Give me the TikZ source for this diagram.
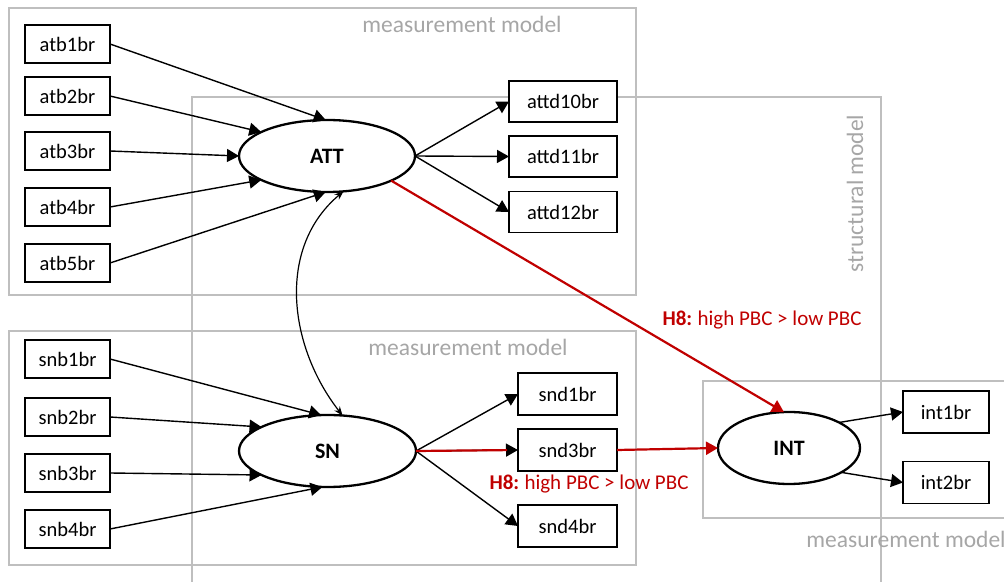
\documentclass[tikz,border=0pt]{standalone}
\usepackage{fontspec}
\setmainfont{Carlito}
\usetikzlibrary{arrows.meta,shapes.geometric}
\definecolor{framegray}{HTML}{BFBFBF}
\definecolor{labelgray}{HTML}{A6A6A6}
\definecolor{hypred}{HTML}{C00000}

\begin{document}
\begin{tikzpicture}[x=1pt,y=1pt,
  ind/.style={draw=black, line width=1.8pt, fill=white, inner sep=0pt, outer sep=0pt,
    font=\fontsize{20.5}{24}\selectfont},
  bbox/.style={ind, minimum width=85pt, minimum height=38pt},
  dbox/.style={ind, minimum width=108pt, minimum height=41pt},
  sbox/.style={ind, minimum width=99pt, minimum height=42pt},
  ibox/.style={ind, minimum width=86pt, minimum height=42pt},
  latent/.style={ellipse, draw=black, line width=2.3pt, fill=white, inner sep=0pt, outer sep=0pt,
    minimum width=176pt, minimum height=72pt, font=\fontsize{22}{26}\selectfont\bfseries},
  load/.style={-{Triangle[length=12pt,width=13pt]}, line width=1.4pt},
  corr/.style={{Stealth[length=9pt,width=7pt]}-{Stealth[length=9pt,width=7pt]}, line width=1.2pt},
  hypo/.style={-{Triangle[length=12pt,width=13pt]}, line width=2.2pt, draw=hypred},
  frm/.style={draw=framegray, line width=1.6pt},
  frmlabel/.style={text=labelgray, font=\fontsize{23.5}{27}\selectfont, inner sep=0pt},
  hyplabel/.style={text=hypred, font=\fontsize{21}{25}\selectfont, inner sep=0pt},
]
\useasboundingbox (0,0) rectangle (1004,581);

% frames
\draw[frm] (9,573) rectangle (636,286);
\draw[frm] (192,-5) -- (192,484) -- (881,484) -- (881,-5);
\draw[frm] (9,250) rectangle (636,16);
\draw[frm] (1010,200) -- (703,200) -- (703,63) -- (1010,63);

\node[frmlabel] (lblA) at (462,557) {measurement model};
\node[frmlabel] (lblS) at (468,234) {measurement model};
\node[frmlabel] (lblI) at (906,42) {measurement model};
\node[frmlabel, rotate=90] (lblStruct) at (855,387.5) {structural model};

% attitude block
\node[bbox] (atb1) at (67.5,537) {atb1br};
\node[bbox] (atb2) at (67.5,485) {atb2br};
\node[bbox] (atb3) at (67.5,430) {atb3br};
\node[bbox] (atb4) at (67.5,374) {atb4br};
\node[bbox] (atb5) at (67.5,318) {atb5br};
\node[latent] (ATT) at (327,425) {ATT};
\node[dbox] (attd10) at (563,479.5) {attd10br};
\node[dbox] (attd11) at (563,424.5) {attd11br};
\node[dbox] (attd12) at (563,369) {attd12br};

% subjective norm block
\node[bbox] (snb1) at (67.5,222) {snb1br};
\node[bbox] (snb2) at (67.5,164) {snb2br};
\node[bbox] (snb3) at (67.5,108) {snb3br};
\node[bbox] (snb4) at (67.5,52) {snb4br};
\node[latent, minimum width=177pt] (SN) at (327.5,130) {SN};
\node[sbox] (snd1) at (567.5,187) {snd1br};
\node[sbox] (snd3) at (567.5,131) {snd3br};
\node[sbox] (snd4) at (567.5,55) {snd4br};

% intention block
\node[latent, minimum width=142pt] (INT) at (789,133) {INT};
\node[ibox] (int1) at (946,169) {int1br};
\node[ibox] (int2) at (946,98.5) {int2br};

% loadings
\draw[load] (atb1.east) -- (ATT.92);
\draw[load] (atb2.east) -- (ATT.160);
\draw[load] (atb3.east) -- (ATT.west);
\draw[load] (atb4.east) -- (ATT.200);
\draw[load] (atb5.east) -- (ATT.268);
\draw[load] (ATT.east) -- (attd10.west);
\draw[load] (ATT.east) -- (attd11.west);
\draw[load] (ATT.east) -- (attd12.west);

\draw[load] (snb1.east) -- (SN.100);
\draw[load] (snb2.east) -- (SN.160);
\draw[load] (snb3.east) -- (SN.200);
\draw[load] (snb4.east) -- (SN.262);
\draw[load] (SN.east) -- (snd1.west);
\draw[load] (SN.east) -- (snd3.west);
\draw[load] (SN.east) -- (snd4.west);

\draw[load] (INT.27) -- (int1.west);
\draw[load] (INT.-25) -- (int2.west);

% correlation
\draw[corr] (ATT.-65) to[out=220,in=128] (SN.67);

% hypothesised paths
\draw[draw=hypred, line width=2.2pt, shorten >=11pt] (SN.east) -- (snd3.west);
\draw[hypo] (snd3.east) -- (INT.west);
\draw[hypo] (ATT.-21) -- (INT.98);

\node[hyplabel] (h8a) at (762,261) {\textbf{H8:}\kern-1pt{} high PBC > low PBC};
\node[hyplabel] (h8b) at (589,97) {\textbf{H8:}\kern-1pt{} high PBC > low PBC};
\end{tikzpicture}
\end{document}
